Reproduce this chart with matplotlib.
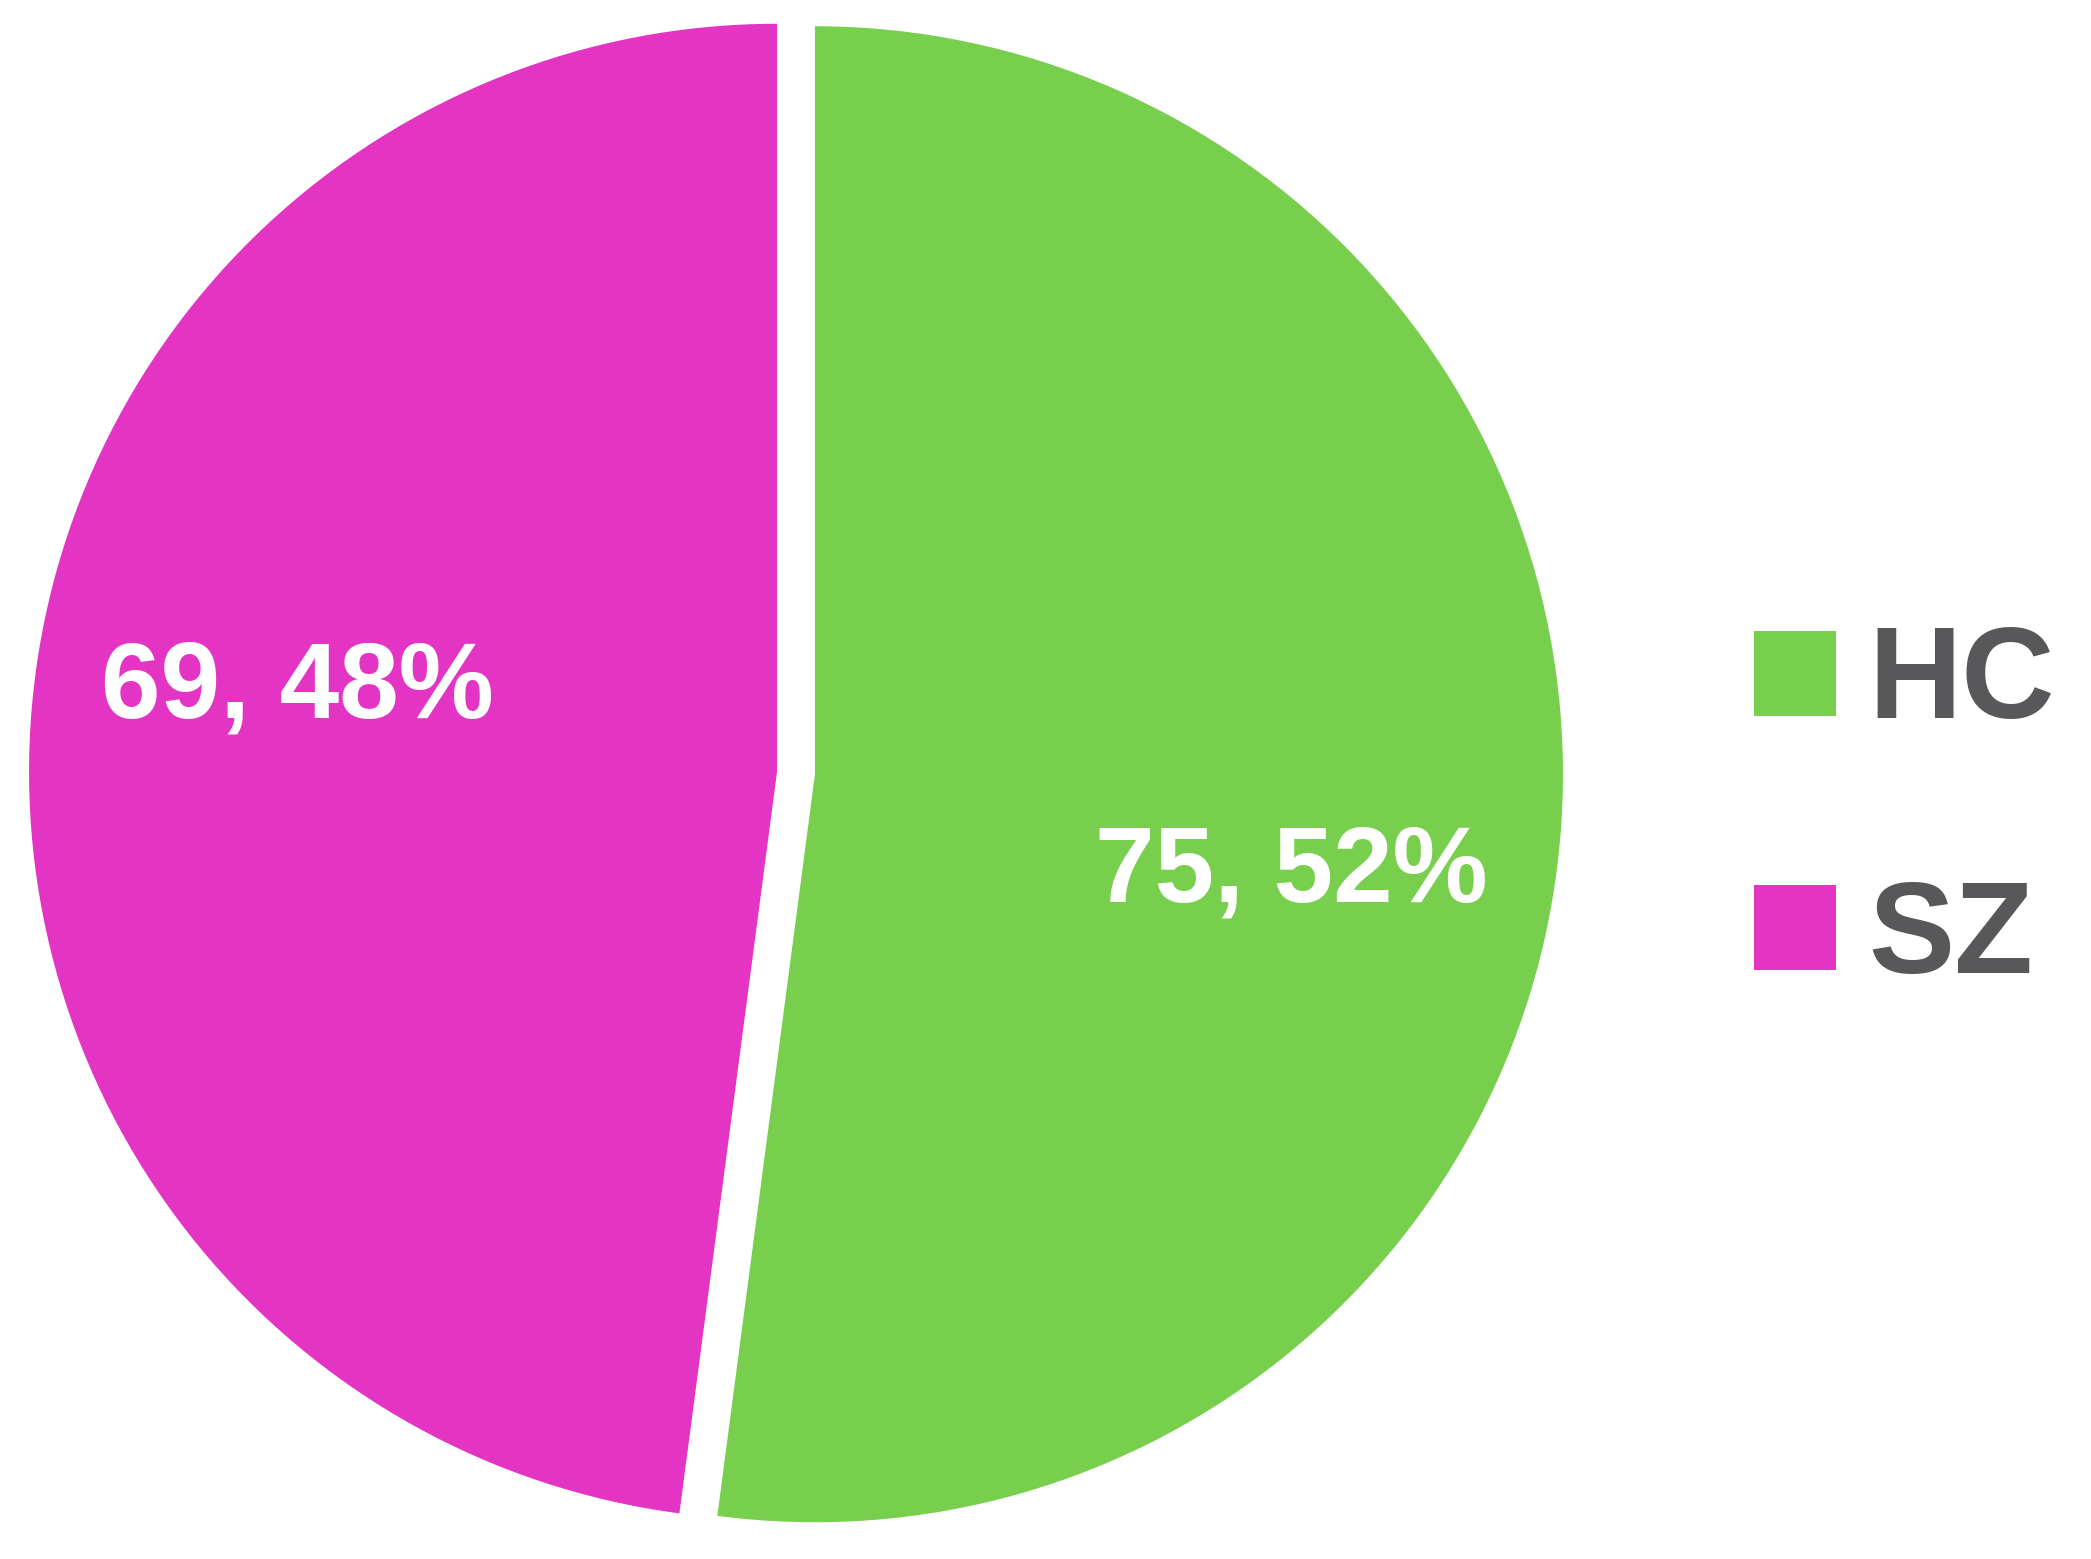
import matplotlib
matplotlib.use("Agg")
import matplotlib.pyplot as plt
import numpy as np

# data
groups = ["HC", "SZ"]
counts = [75, 69]
colors = ["#77cf4d", "#e434c4"]

W, H = 2091, 1559
plt.rcParams['font.family'] = ['Liberation Sans', 'DejaVu Sans']

fig = plt.figure(figsize=(W / 100, H / 100), dpi=100)
ax = fig.add_axes([0, 0, 1, 1])

radius = 748
center = (796, H - 773)
gap = 19  # explode distance, data units (= pixels here)

wedges, _ = ax.pie(counts, colors=colors, startangle=90, counterclock=False,
                   radius=radius, center=center,
                   explode=[gap] * len(counts),
                   wedgeprops=dict(linewidth=0), frame=True)
ax.set_xlim(0, W)
ax.set_ylim(0, H)
ax.axis("off")

# value labels: "n, pct%"
total = sum(counts)
label_shift = [-8, -6]   # degrees, rotate label a bit from wedge middle
for w, n, sh in zip(wedges, counts, label_shift):
    mid = np.deg2rad((w.theta1 + w.theta2) / 2 + sh)
    x = w.center[0] + 0.65 * radius * np.cos(mid)
    y = w.center[1] + 0.65 * radius * np.sin(mid)
    ax.text(x, y, f"{n}, {round(100 * n / total)}%", color="white",
            fontsize=77, fontweight="bold", ha="center", va="center")

# legend
handles = [plt.Rectangle((0, 0), 1, 1, facecolor=c, edgecolor="none") for c in colors]
leg = fig.legend(handles, groups, loc="center left",
                 bbox_to_anchor=(1754 / W, 1 - 812 / H),
                 frameon=False, fontsize=93, handlelength=0.635, handleheight=0.635,
                 handletextpad=0.25, labelspacing=1.03, borderpad=0, borderaxespad=0)
for t in leg.get_texts():
    t.set_color("#58585a")
    t.set_fontweight("bold")

fig.savefig("out.png", dpi=100, facecolor="white")
